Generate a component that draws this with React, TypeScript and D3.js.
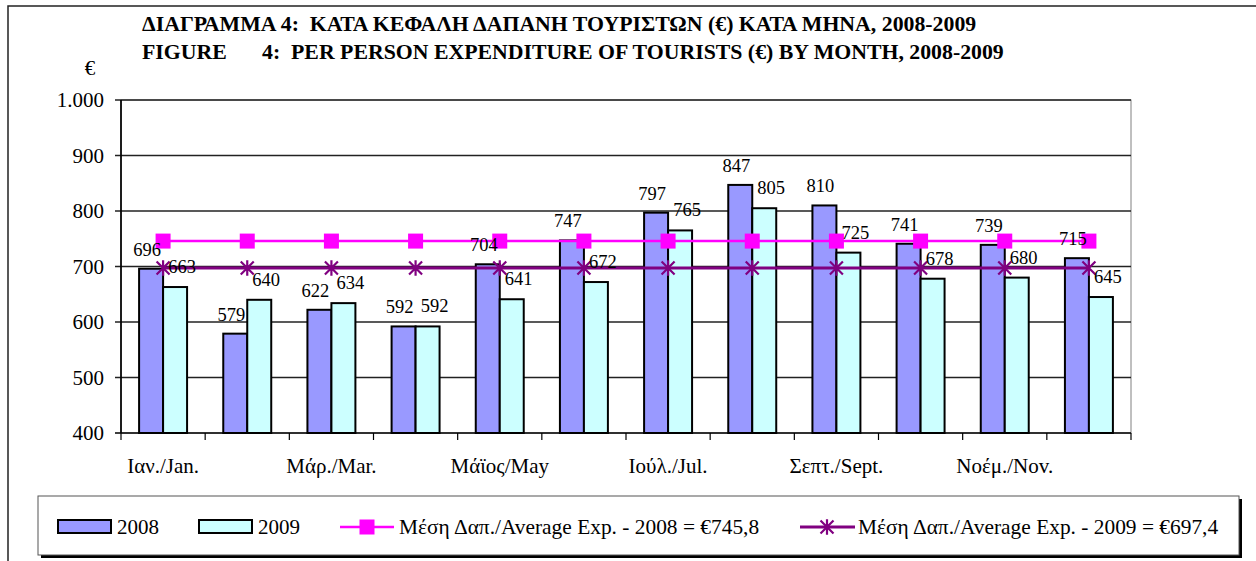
import * as d3 from 'd3';
import { useEffect, useRef } from 'react';

const months = [
  'Ιαν./Jan.', 'Φεβ./Feb.', 'Μάρ./Mar.', 'Απρ./Apr.', 'Μάϊος/May', 'Ιούν./Jun.',
  'Ιούλ./Jul.', 'Αύγ./Aug.', 'Σεπτ./Sept.', 'Οκτ./Oct.', 'Νοέμ./Nov.', 'Δεκ./Dec.',
];
const exp2008 = [696, 579, 622, 592, 704, 747, 797, 847, 810, 741, 739, 715];
const exp2009 = [663, 640, 634, 592, 641, 672, 765, 805, 725, 678, 680, 645];
const avg2008 = 745.8;
const avg2009 = 697.4;
const yTicks = [400, 500, 600, 700, 800, 900, 1000];

const titleGr = 'ΔΙΑΓΡΑΜΜΑ 4:  ΚΑΤΑ ΚΕΦΑΛΗ ΔΑΠΑΝΗ ΤΟΥΡΙΣΤΩΝ (€) ΚΑΤΑ ΜΗΝΑ, 2008-2009';
const titleEnA = 'FIGURE';
const titleEnB = '4:  PER PERSON EXPENDITURE OF TOURISTS (€) BY MONTH, 2008-2009';
const legendLabels = [
  '2008',
  '2009',
  'Μέση Δαπ./Average Exp. - 2008 = €745,8',
  'Μέση Δαπ./Average Exp. - 2009 = €697,4',
];

const W = 1256;
const H = 561;
const FONT = "'Liberation Serif', 'Times New Roman', serif";
const C2008 = '#9999ff';
const C2009 = '#ccffff';
const CAVG08 = '#ff00ff';
const CAVG09 = '#800080';

const fmt = (v: number) => d3.format(',')(v).replace(',', '.');

const App = () => {
  const ref = useRef<SVGSVGElement | null>(null);

  useEffect(() => {
    if (!ref.current) return;
    const svg = d3.select(ref.current);
    svg.selectAll('*').remove();

    const left = 121, right = 1131, top = 100, bottom = 433;
    const x = d3.scaleBand<string>().domain(months).range([left, right]);
    const y = d3.scaleLinear().domain([400, 1000]).range([bottom, top]);
    const bw = x.bandwidth() * 0.285;
    const cx = (m: string) => (x(m) as number) + x.bandwidth() / 2;

    // outer frame
    svg.append('rect')
      .attr('x', 8).attr('y', 6).attr('width', W).attr('height', H)
      .attr('fill', 'white').attr('stroke', '#222').attr('stroke-width', 1.5);

    // titles
    svg.append('text').attr('x', 142).attr('y', 31)
      .style('font-family', FONT).attr('font-weight', 'bold').attr('font-size', 21.8)
      .style('white-space', 'pre').text(titleGr);
    const t2 = svg.append('text').attr('y', 59)
      .style('font-family', FONT).attr('font-weight', 'bold').attr('font-size', 21.8)
      .style('white-space', 'pre');
    t2.append('tspan').attr('x', 142).text(titleEnA);
    t2.append('tspan').attr('x', 262).text(titleEnB);

    svg.append('text').attr('x', 90).attr('y', 75).attr('text-anchor', 'middle')
      .style('font-family', FONT).attr('font-size', 21).text('€');

    // plot area
    svg.append('rect').attr('x', left).attr('y', top)
      .attr('width', right - left).attr('height', bottom - top)
      .attr('fill', 'white').attr('stroke', '#808080').attr('stroke-width', 1);

    const g = svg.append('g');
    g.selectAll('line.grid').data(yTicks).enter().append('line')
      .attr('x1', left - 6).attr('x2', right)
      .attr('y1', (d) => y(d)).attr('y2', (d) => y(d))
      .attr('stroke', (d) => (d === 400 ? '#000' : '#222'))
      .attr('stroke-width', 1.7);
    g.selectAll('text.ytick').data(yTicks).enter().append('text')
      .attr('x', 104).attr('y', (d) => y(d) + 7)
      .attr('text-anchor', 'end').style('font-family', FONT).attr('font-size', 21)
      .text((d) => fmt(d));

    // y axis line
    g.append('line').attr('x1', left).attr('x2', left).attr('y1', top).attr('y2', bottom)
      .attr('stroke', '#000').attr('stroke-width', 1.7);

    // x ticks at category boundaries
    const bounds = months.map((m) => x(m) as number).concat([right]);
    g.selectAll('line.xtick').data(bounds).enter().append('line')
      .attr('x1', (d) => d).attr('x2', (d) => d)
      .attr('y1', bottom).attr('y2', bottom + 7)
      .attr('stroke', '#000').attr('stroke-width', 1.2);
    g.selectAll('text.xlab').data(months.filter((_m, i) => i % 2 === 0)).enter().append('text')
      .attr('x', (d) => cx(d)).attr('y', bottom + 40)
      .attr('text-anchor', 'middle').style('font-family', FONT).attr('font-size', 21)
      .text((d) => d);

    // bars
    g.selectAll('rect.b08').data(exp2008).enter().append('rect')
      .attr('x', (_d, i) => cx(months[i]) - bw).attr('width', bw)
      .attr('y', (d) => y(d)).attr('height', (d) => bottom - y(d))
      .attr('fill', C2008).attr('stroke', '#000').attr('stroke-width', 2);
    g.selectAll('rect.b09').data(exp2009).enter().append('rect')
      .attr('x', (_d, i) => cx(months[i])).attr('width', bw)
      .attr('y', (d) => y(d)).attr('height', (d) => bottom - y(d))
      .attr('fill', C2009).attr('stroke', '#000').attr('stroke-width', 2);

    // average lines
    const avgLine = d3.line<string>().x((m) => cx(m)).y(0);
    const l08 = g.append('g').attr('transform', `translate(0,${y(avg2008)})`);
    l08.append('path').attr('d', avgLine(months) as string)
      .attr('fill', 'none').attr('stroke', CAVG08).attr('stroke-width', 2.5);
    l08.selectAll('rect').data(months).enter().append('rect')
      .attr('x', (m) => cx(m) - 7.5).attr('y', -7.5).attr('width', 15).attr('height', 15)
      .attr('fill', CAVG08);

    const star = (s: number) =>
      `M${-s},${-s}L${s},${s}M${-s},${s}L${s},${-s}M0,${-s * 1.2}L0,${s * 1.2}`;
    const l09 = g.append('g').attr('transform', `translate(0,${y(avg2009)})`);
    l09.append('path').attr('d', avgLine(months) as string)
      .attr('fill', 'none').attr('stroke', CAVG09).attr('stroke-width', 3);
    l09.selectAll('path.star').data(months).enter().append('path')
      .attr('transform', (m) => `translate(${cx(m)},0)`)
      .attr('d', star(6.5)).attr('fill', 'none')
      .attr('stroke', CAVG09).attr('stroke-width', 2.2);

    // data labels
    g.selectAll('text.l08').data(exp2008).enter().append('text')
      .attr('x', (_d, i) => cx(months[i]) - bw / 2 - 4).attr('y', (d) => y(d) - 13)
      .attr('text-anchor', 'middle').style('font-family', FONT).attr('font-size', 18.5)
      .text((d) => d);
    g.selectAll('text.l09').data(exp2009).enter().append('text')
      .attr('x', (_d, i) => cx(months[i]) + bw / 2 + 7).attr('y', (d) => y(d) - 14)
      .attr('text-anchor', 'middle').style('font-family', FONT).attr('font-size', 18.5)
      .text((d) => d);

    // legend
    const lg = svg.append('g');
    lg.append('rect').attr('x', 41).attr('y', 499).attr('width', 1201).attr('height', 59)
      .attr('fill', '#000');
    lg.append('rect').attr('x', 38).attr('y', 496).attr('width', 1201).attr('height', 59)
      .attr('fill', 'white').attr('stroke', '#555').attr('stroke-width', 1);
    const ly = 527;
    const sw = [
      { x: 58, fill: C2008 },
      { x: 199, fill: C2009 },
    ];
    sw.forEach((s, i) => {
      lg.append('rect').attr('x', s.x).attr('y', ly - 7).attr('width', 53).attr('height', 13)
        .attr('fill', s.fill).attr('stroke', '#000').attr('stroke-width', 2);
      lg.append('text').attr('x', s.x + 59).attr('y', ly + 7)
        .style('font-family', FONT).attr('font-size', 21).text(legendLabels[i]);
    });
    lg.append('line').attr('x1', 340).attr('x2', 394).attr('y1', ly).attr('y2', ly)
      .attr('stroke', CAVG08).attr('stroke-width', 2.5);
    lg.append('rect').attr('x', 367 - 7.5).attr('y', ly - 7.5).attr('width', 15).attr('height', 15)
      .attr('fill', CAVG08);
    lg.append('text').attr('x', 399).attr('y', ly + 7)
      .style('font-family', FONT).attr('font-size', 21.4).text(legendLabels[2]);
    lg.append('line').attr('x1', 800).attr('x2', 855).attr('y1', ly).attr('y2', ly)
      .attr('stroke', CAVG09).attr('stroke-width', 3);
    lg.append('path').attr('transform', `translate(827,${ly})`).attr('d', star(6.5))
      .attr('fill', 'none').attr('stroke', CAVG09).attr('stroke-width', 2.2);
    lg.append('text').attr('x', 858).attr('y', ly + 7)
      .style('font-family', FONT).attr('font-size', 21.4).text(legendLabels[3]);
  }, []);

  return (
    <svg
      ref={ref}
      width={W}
      height={H}
      style={{ position: 'absolute', left: 0, top: 0, background: 'white' }}
    />
  );
};

export default App;
